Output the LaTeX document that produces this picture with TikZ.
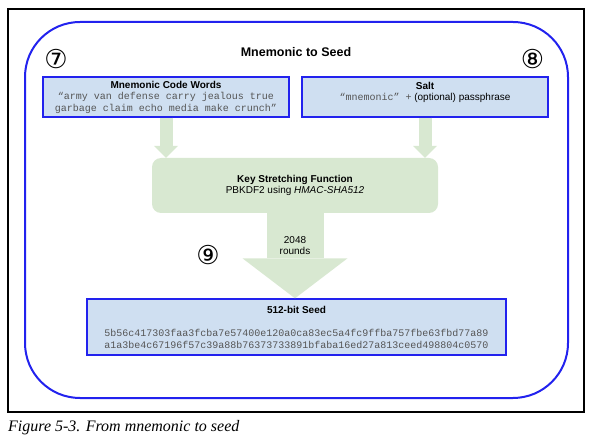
\documentclass[tikz,border=0pt]{standalone}
\usepackage{fontspec}
\setmainfont{Liberation Serif}
\setsansfont{Liberation Sans}
\setmonofont{Liberation Mono}
\newfontfamily\circfont{DejaVu Sans}
\usetikzlibrary{arrows.meta, positioning}
\usepackage{xcolor}
\definecolor{boxblue}{HTML}{CFDFF1}
\definecolor{lineblue}{HTML}{2222EE}
\definecolor{kdfgreen}{HTML}{D8E8D1}
\definecolor{codegray}{HTML}{555555}
\newcommand{\mono}[1]{{\ttfamily\color{codegray}#1}}

\begin{document}
\begin{tikzpicture}[
    x=1pt, y=-1pt,
    font=\sffamily\fontsize{10}{11.5}\selectfont,
    box/.style={rectangle, draw=lineblue, line width=1.3pt, fill=boxblue, align=center, inner sep=0pt},
    kdf/.style={rectangle, fill=kdfgreen, rounded corners=9pt, align=center, inner sep=0pt},
    flow/.style={draw=kdfgreen, line width=13pt, -{Triangle[width=24pt, length=12pt, line width=0pt]}},
    bigflow/.style={draw=kdfgreen, line width=57pt, -{Triangle[width=105pt, length=40pt, line width=0pt]}},
    num/.style={font=\circfont\fontsize{26}{26}\selectfont, inner sep=0pt}
]
\useasboundingbox (0,0) rectangle (594,443);
\draw[line width=1.2pt] (8,9) rectangle (584,412);
\draw[lineblue, line width=2pt, rounded corners=55pt] (25,22) rectangle (568,398);

\node[font=\sffamily\bfseries\fontsize{12.5}{14}\selectfont] (title) at (296,52) {Mnemonic to Seed};

\node[num] (seven) at (56,59.5) {⑦};
\node[num] (eight) at (532.5,59) {⑧};
\node[num] (nine) at (208,255.5) {⑨};

\node[box, minimum width=246pt, minimum height=40pt] (words) at (166,97) {\textbf{Mnemonic Code Words}\\\mono{“army van defense carry jealous true}\\\mono{garbage claim echo media make crunch”}};
\node[box, minimum width=246pt, minimum height=40pt] (salt) at (425,97) {\textbf{Salt}\\\mono{“mnemonic” +} (optional) passphrase\\\mbox{}};

\node[kdf, minimum width=286pt, minimum height=55pt] (ksf) at (295,185.5) {\textbf{Key Stretching Function}\\PBKDF2 using \textit{HMAC-SHA512}};

\node[box, minimum width=419pt, minimum height=56pt] (seed) at (296.5,327) {\textbf{512-bit Seed}\\[12pt]\mono{5b56c417303faa3fcba7e57400e120a0ca83ec5a4fc9ffba757fbe63fbd77a89}\\\mono{a1a3be4c67196f57c39a88b76373733891bfaba16ed27a813ceed498804c0570}};

\draw[flow] (words.south) -- (words.south |- ksf.north);
\draw[flow] (salt.south) -- (salt.south |- ksf.north);
\draw[bigflow] (ksf.south) -- (ksf.south |- seed.north) node[pos=0.38, align=center] (rounds) {2048\\rounds};

\node[anchor=west, font=\rmfamily\itshape\fontsize{16}{18}\selectfont, inner sep=0pt] (caption) at (8,428) {Figure 5-3. From mnemonic to seed};
\end{tikzpicture}
\end{document}
